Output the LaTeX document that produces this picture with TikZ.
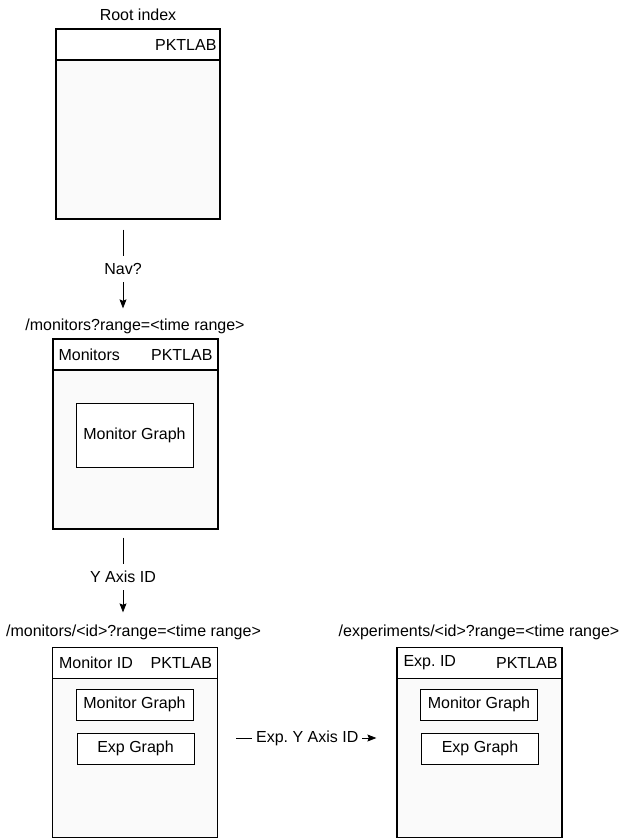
\documentclass[tikz,border=0pt]{standalone}
\usepackage{fontspec}
\setmainfont{Liberation Sans}
\usetikzlibrary{arrows.meta, positioning}
\frenchspacing

\begin{document}
\begin{tikzpicture}
        [x=1pt, y=-1pt, font=\fontsize{16}{19}\selectfont,
        page/.style={draw, line width=1.3pt, fill=black!2, minimum width=165pt, minimum height=190pt, inner sep=0pt},
        header/.style={draw, line width=1.3pt, fill=white, minimum width=165pt, minimum height=31pt, anchor=north, inner sep=0pt},
        graph/.style={draw, line width=1pt, fill=white, minimum width=117pt, minimum height=31pt, inner sep=0pt},
        url/.style={inner sep=0pt},
        hlabel/.style={inner sep=0pt},
        flow/.style={line width=0.7pt, -{Stealth[length=9pt, width=7pt, inset=1.5pt]}},
        tag/.style={fill=white, inner xsep=4pt, inner ysep=7pt}]

        \useasboundingbox (0,0) rectangle (627,838);

        % pages
        \node[page, minimum width=164pt] (root) at (138,124) {};
        \node[header, minimum width=164pt] (roothead) at (root.north) {};
        \node[page] (mons) at (135.5,434) {};
        \node[header] (monshead) at (mons.north) {};
        \node[page] (mon) at (135,742.5) {};
        \node[header] (monhead) at (mon.north) {};
        \node[page] (exp) at (479.5,742.5) {};
        \node[header] (exphead) at (exp.north) {};

        % urls above the pages
        \node[url] (rooturl) at (138,15) {Root index};
        \node[url] (monsurl) at (135,326) {/monitors?range=<time range>};
        \node[url] (monurl) at (133.5,632) {/monitors/<id>?range=<time range>};
        \node[url] (expurl) at (479,632) {/experiments/<id>?range=<time range>};

        % header texts
        \node[hlabel, left=4pt of roothead.east] (rootpkt) {PKTLAB};
        \node[hlabel, right=6pt of monshead.west] (monstitle) {Monitors};
        \node[hlabel, left=6pt of monshead.east] (monspkt) {PKTLAB};
        \node[hlabel, right=7pt of monhead.west] (montitle) {Monitor ID};
        \node[hlabel, left=6pt of monhead.east] (monpkt) {PKTLAB};
        \node[hlabel, right=7pt of exphead.west] (exptitle) {Exp. ID};
        \node[hlabel, left=5pt of exphead.east] (exppkt) {PKTLAB};

        % graphs
        \node[graph, minimum height=64pt] (monsgraph) at (134.5,435) {Monitor Graph};
        \node[graph] (mongraph) at (134.5,704.5) {Monitor Graph};
        \node[graph] (monexp) at (135.5,748.5) {Exp Graph};
        \node[graph] (expgraph) at (479,704.5) {Monitor Graph};
        \node[graph] (expexp) at (480,748.5) {Exp Graph};

        % navigation
        \draw[flow, shorten <=10pt, shorten >=10pt] ([xshift=-15pt]root.south) -- node[tag] {Nav?} ([xshift=-12pt]monsurl.north);
        \draw[flow, shorten <=8pt, shorten >=12pt] ([xshift=-12.5pt]mons.south) -- node[tag] {Y Axis ID} ([xshift=-10.5pt]monurl.north);
        \draw[flow, shorten <=18pt, shorten >=20pt] ([yshift=4.5pt]mon.east) -- node[tag] {Exp. Y Axis ID} ([yshift=4.5pt]exp.west);

    \end{tikzpicture}
\end{document}
